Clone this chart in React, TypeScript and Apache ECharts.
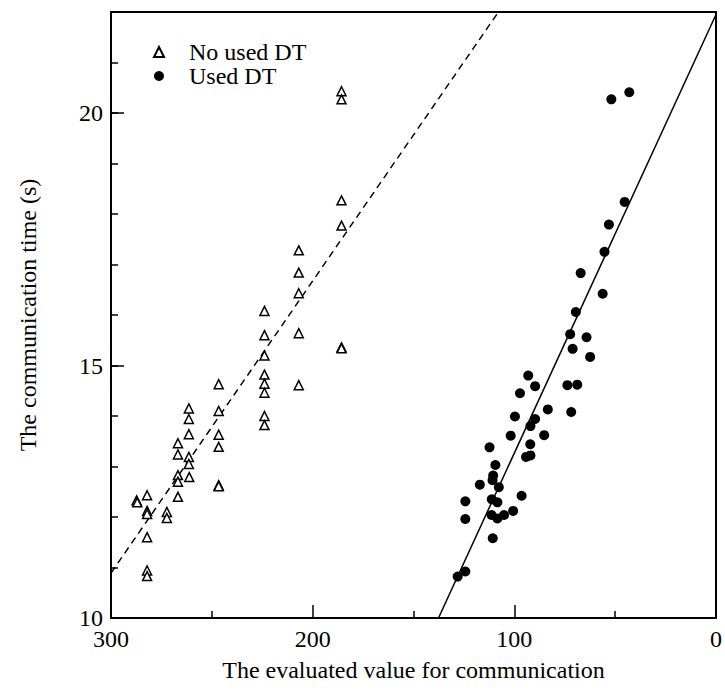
import React, { useEffect, useRef } from "react";
import * as echarts from "echarts";

// No used DT (x: evaluated value, y: communication time in s)
const noDtX = [
  287.3, 287.0,
  282.1, 282.1, 282.1, 282.1, 282.1, 282.1,
  272.3, 272.3,
  266.8, 266.8, 266.8, 266.8, 266.8,
  261.4, 261.4, 261.4, 261.4, 261.4, 261.2,
  246.6, 246.6, 246.6, 246.6, 246.6, 246.6,
  223.9, 223.9, 223.9, 223.9, 223.9, 223.9, 223.9, 223.9,
  206.9, 206.9, 206.9, 206.9, 206.9,
  185.7, 185.7, 185.7, 185.7, 185.7, 185.7,
];
const noDtY = [
  12.33, 12.29,
  12.43, 12.12, 12.06, 11.6, 10.94, 10.83,
  12.1, 11.98,
  13.46, 13.24, 12.83, 12.7, 12.4,
  14.15, 13.94, 13.64, 13.19, 13.05, 12.79,
  14.63, 14.1, 13.63, 13.39, 12.63, 12.61,
  16.08, 15.6, 15.2, 14.82, 14.64, 14.46, 14.0, 13.82,
  17.28, 16.84, 16.43, 15.64, 14.61,
  20.43, 20.27, 18.27, 17.77, 15.36, 15.34,
];

// Used DT
const dtX = [
  51.9, 43.0, 45.3, 53.1, 55.3, 67.1, 56.2, 69.5, 72.3, 64.2,
  71.1, 62.4, 93.1, 97.2, 89.7, 73.7, 68.8, 83.4, 71.8, 99.7,
  89.7, 92.0, 101.8, 85.2, 92.1, 112.3, 94.2, 92.0, 109.4, 110.5,
  110.8, 117.1, 107.7, 124.3, 111.2, 108.4, 96.4, 124.3, 111.3, 108.4,
  105.1, 100.6, 110.7, 128.1, 124.3,
];
const dtY = [
  20.27, 20.41, 18.24, 17.79, 17.25, 16.83, 16.42, 16.06, 15.62, 15.56,
  15.33, 15.17, 14.8, 14.45, 14.59, 14.61, 14.62, 14.13, 14.08, 13.99,
  13.94, 13.8, 13.61, 13.62, 13.44, 13.38, 13.19, 13.22, 13.03, 12.82,
  12.73, 12.64, 12.59, 12.31, 12.35, 12.29, 12.42, 11.96, 12.04, 11.97,
  12.04, 12.12, 11.58, 10.82, 10.92,
];

// Fitted lines (end points in data units)
const noDtFitX = [300, 107.9];
const noDtFitY = [10.89, 22];
const dtFitX = [137.6, 0];
const dtFitY = [10, 21.95];

const xTickLabels = [0, 100, 200, 300];
const yTickLabels = [10, 15, 20];

const FONT = "Liberation Serif, Times New Roman, Times, DejaVu Serif, serif";

const zip = (xs: number[], ys: number[]) => xs.map((x, i) => [x, ys[i]]);

export default function App() {
  const ref = useRef<HTMLDivElement>(null);
  useEffect(() => {
    if (!ref.current) return;
    const chart = echarts.init(ref.current, undefined, { renderer: "svg" });
    chart.setOption({
      animation: false,
      backgroundColor: "#fff",
      textStyle: { fontFamily: FONT, color: "#000" },
      grid: {
        left: 111,
        right: 6,
        top: 12,
        bottom: 74,
        show: true,
        borderColor: "#000",
        borderWidth: 2,
        backgroundColor: "transparent",
      },
      legend: {
        data: ["No used DT", "Used DT"],
        orient: "vertical",
        left: 153,
        top: 40,
        padding: 0,
        itemWidth: 10,
        itemHeight: 10,
        itemGap: 0,
        textStyle: {
          fontFamily: FONT,
          fontSize: 24,
          color: "#000",
          lineHeight: 24,
          padding: [0, 0, 0, 20],
        },
      },
      xAxis: {
        type: "value",
        inverse: true,
        min: 0,
        max: 300,
        interval: 100,
        name: "The evaluated value for communication",
        nameLocation: "middle",
        nameGap: 40,
        nameTextStyle: { fontFamily: FONT, fontSize: 24, color: "#000" },
        axisLine: { show: true, onZero: false, lineStyle: { color: "#000", width: 2 } },
        axisTick: { show: true, inside: true, length: 13, lineStyle: { color: "#000", width: 1.5 } },
        minorTick: { show: true, splitNumber: 2, length: 7, lineStyle: { color: "#000", width: 1.5 } },
        splitLine: { show: false },
        axisLabel: {
          fontFamily: FONT,
          fontSize: 24,
          color: "#000",
          margin: 9,
          formatter: (v: number) => (xTickLabels.includes(v) ? String(v) : ""),
        },
      },
      yAxis: [
        {
          type: "value",
          position: "left",
          min: 10,
          max: 22,
          interval: 1,
          name: "The communication time (s)",
          nameLocation: "middle",
          nameGap: 71,
          nameTextStyle: { fontFamily: FONT, fontSize: 24, color: "#000" },
          axisLine: { show: true, onZero: false, lineStyle: { color: "#000", width: 2 } },
          axisTick: { show: true, inside: true, length: 7, lineStyle: { color: "#000", width: 1.5 } },
          splitLine: { show: false },
          axisLabel: {
            fontFamily: FONT,
            fontSize: 24,
            color: "#000",
            margin: 8,
            formatter: (v: number) => (yTickLabels.includes(v) ? String(v) : ""),
          },
        },
        {
          type: "value",
          position: "left",
          offset: 0,
          min: 10,
          max: 22,
          interval: 5,
          axisLine: { show: false, onZero: false },
          axisTick: { show: true, inside: true, length: 13, lineStyle: { color: "#000", width: 1.5 } },
          splitLine: { show: false },
          axisLabel: { show: false },
        },
      ],
      series: [
        {
          name: "No used DT fit",
          type: "line",
          data: zip(noDtFitX, noDtFitY),
          showSymbol: false,
          symbol: "none",
          silent: true,
          lineStyle: { color: "#000", width: 1.5, type: [7, 5] },
          z: 1,
        },
        {
          name: "Used DT fit",
          type: "line",
          data: zip(dtFitX, dtFitY),
          showSymbol: false,
          symbol: "none",
          silent: true,
          lineStyle: { color: "#000", width: 1.5 },
          z: 1,
        },
        {
          name: "No used DT",
          type: "scatter",
          data: zip(noDtX, noDtY),
          symbol: "triangle",
          symbolSize: 9,
          itemStyle: { color: "#fff", borderColor: "#000", borderWidth: 1.5, opacity: 1 },
          z: 3,
        },
        {
          name: "Used DT",
          type: "scatter",
          data: zip(dtX, dtY),
          symbol: "circle",
          symbolSize: 10,
          itemStyle: { color: "#000", opacity: 1 },
          z: 3,
        },
      ],
    });
    return () => chart.dispose();
  }, []);
  return <div ref={ref} style={{ width: 725, height: 692, position: "absolute", left: 0, top: 0 }} />;
}
